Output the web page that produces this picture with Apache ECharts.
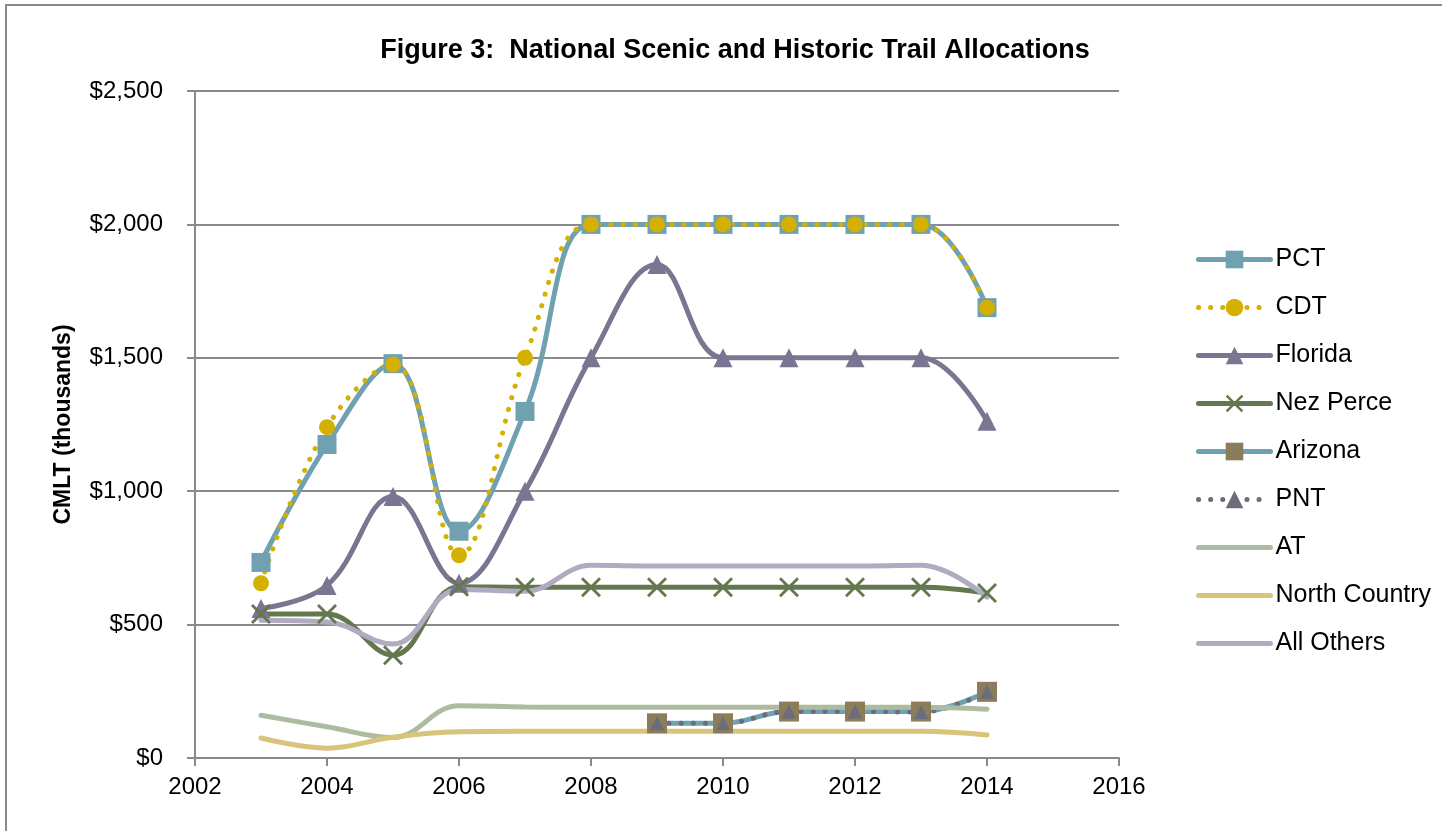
<!DOCTYPE html>
<html>
<head>
<meta charset="utf-8">
<title>National Scenic and Historic Trail Allocations</title>
<script src="https://cdn.jsdelivr.net/npm/echarts@6/dist/echarts.min.js"></script>
<style>
    html, body { margin: 0; padding: 0; background: #fff; }
    #chart { width: 1442px; height: 831px; }
</style>
</head>
<body>
<div id="chart"></div>
<script>
// values in thousands of dollars, one per year
var years = [2003, 2004, 2005, 2006, 2007, 2008, 2009, 2010, 2011, 2012, 2013, 2014];
var pct = [733, 1175, 1478, 850, 1299, 2000, 2000, 2000, 2000, 2000, 2000, 1688];
var cdt = [655, 1240, 1475, 760, 1500, 2000, 2000, 2000, 2000, 2000, 2000, 1688];
var florida = [560, 647, 980, 655, 1000, 1500, 1850, 1500, 1500, 1500, 1500, 1262];
var nezPerce = [540, 540, 385, 642, 640, 640, 640, 640, 640, 640, 640, 618];
var arizona = [null, null, null, null, null, null, 130, 130, 174, 174, 174, 248];
var pnt = [null, null, null, null, null, null, 130, 130, 174, 174, 172, 248];
var at = [160, 117, 77, 196, 191, 190, 190, 190, 190, 190, 190, 183];
var northCountry = [75, 37, 78, 98, 100, 100, 100, 100, 100, 100, 100, 86];
var allOthers = [516, 510, 427, 632, 625, 722, 720, 720, 720, 720, 722, 603];

var FONT = 'Liberation Sans';
var xSymbol = 'path://M0,1L1,0L10,9L9,10ZM9,0L10,1L1,10L0,9Z';

function pairs(vals) {
    return years.map(function (y, i) { return [y, vals[i]]; });
}

function makeLine(name, vals, color, opts) {
    opts = opts || {};
    return {
        name: name,
        type: 'line',
        smooth: 0.4,
        connectNulls: false,
        data: pairs(vals),
        symbol: opts.symbol || 'none',
        symbolSize: opts.symbolSize || 0,
        showSymbol: !!opts.symbol,
        lineStyle: {
            color: color,
            width: 5,
            type: opts.dash || 'solid',
            cap: 'round'
        },
        itemStyle: { color: opts.markerColor || color, opacity: 1 },
        emphasis: { disabled: true }
    };
}

// lines without markers get no marker in the legend either
function plainItem(name) {
    return { name: name, itemStyle: { opacity: 0 } };
}

var chart = echarts.init(document.getElementById('chart'));

chart.setOption({
    backgroundColor: '#fff',
    animation: false,
    title: {
        text: 'Figure 3:  National Scenic and Historic Trail Allocations',
        left: 730,
        top: 32,
        textAlign: 'center',
        textStyle: { fontFamily: FONT, fontSize: 27, fontWeight: 'bold', color: '#000' }
    },
    legend: {
        orient: 'vertical',
        left: 1191,
        top: 242,
        itemWidth: 72,
        itemHeight: 22,
        itemGap: 23,
        lineStyle: { width: 5 },
        textStyle: { fontFamily: FONT, fontSize: 25, color: '#000' },
        data: ['PCT', 'CDT', 'Florida', 'Nez Perce', 'Arizona', 'PNT',
            plainItem('AT'), plainItem('North Country'), plainItem('All Others')]
    },
    grid: { left: 195, right: 323, top: 91, bottom: 73 },
    xAxis: {
        type: 'value',
        min: 2002,
        max: 2016,
        interval: 2,
        axisLine: { lineStyle: { color: '#8a8a8a', width: 2 } },
        axisTick: { show: true, length: 8, lineStyle: { color: '#8a8a8a', width: 2 } },
        axisLabel: {
            margin: 17,
            fontFamily: FONT,
            fontSize: 24,
            color: '#000',
            formatter: function (v) { return String(v); }
        },
        splitLine: { show: false }
    },
    yAxis: {
        type: 'value',
        min: 0,
        max: 2500,
        interval: 500,
        name: 'CMLT (thousands)',
        nameLocation: 'middle',
        nameGap: 120,
        nameRotate: 90,
        nameTextStyle: { fontFamily: FONT, fontSize: 23, fontWeight: 'bold', color: '#000' },
        axisLine: { show: true, lineStyle: { color: '#8a8a8a', width: 2 } },
        axisTick: { show: true, length: 8, inside: false, lineStyle: { color: '#8a8a8a', width: 2 } },
        axisLabel: {
            margin: 32,
            fontFamily: FONT,
            fontSize: 24,
            color: '#000',
            formatter: function (v) { return '$' + v.toLocaleString('en-US'); }
        },
        splitLine: { show: true, lineStyle: { color: '#8a8a8a', width: 2 } }
    },
    graphic: [
        {
            type: 'polyline',
            shape: { points: [[6, 831], [6, 5], [1442, 5]] },
            style: { stroke: '#8a8a8a', lineWidth: 2, fill: null },
            silent: true
        }
    ],
    series: [
        makeLine('PCT', pct, '#70a1b1', { symbol: 'rect', symbolSize: 19 }),
        makeLine('CDT', cdt, '#d4b000', { symbol: 'circle', symbolSize: 16, dash: [0.1, 12] }),
        makeLine('Florida', florida, '#7a7590', { symbol: 'triangle', symbolSize: 19 }),
        makeLine('Nez Perce', nezPerce, '#63784e', { symbol: xSymbol, symbolSize: 20 }),
        makeLine('Arizona', arizona, '#70a1b1', { symbol: 'rect', symbolSize: 20, markerColor: '#8b7d5a' }),
        makeLine('PNT', pnt, '#6b6d7b', { symbol: 'triangle', symbolSize: 14, dash: [0.1, 12] }),
        makeLine('AT', at, '#adbca0'),
        makeLine('North Country', northCountry, '#d9c47c'),
        makeLine('All Others', allOthers, '#b1abc2')
    ]
});

window.addEventListener('resize', function () {
    chart.resize();
});
</script>
</body>
</html>
